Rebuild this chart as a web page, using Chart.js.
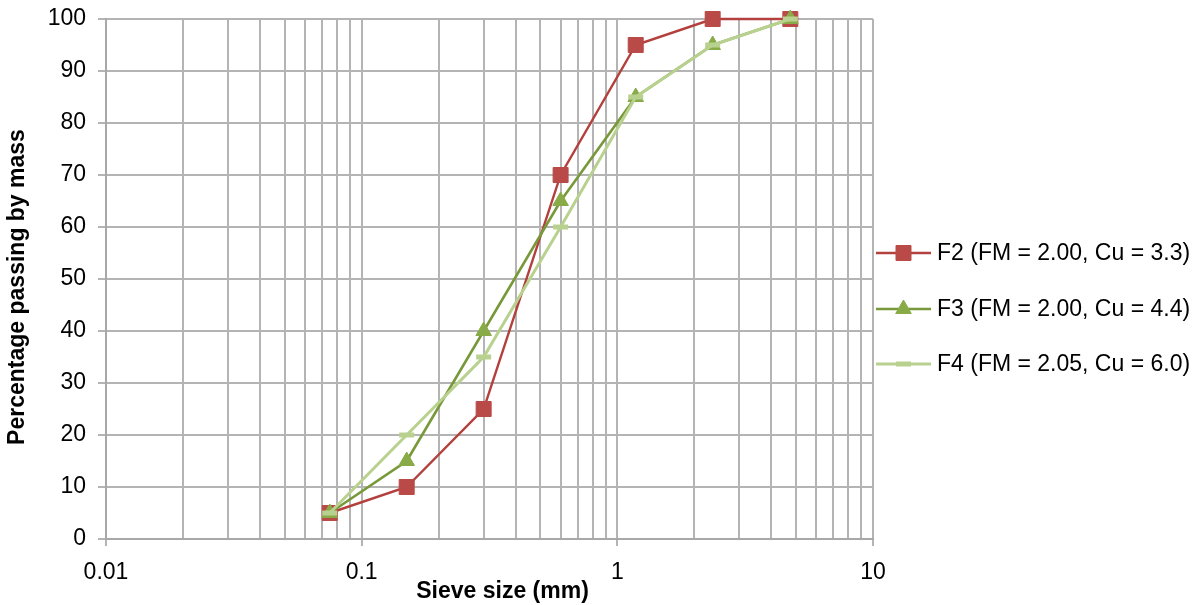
<!DOCTYPE html>
<html>
<head>
<meta charset="utf-8">
<script src="https://cdn.jsdelivr.net/npm/chart.js@4/dist/chart.umd.min.js"></script>
<style>
  html, body { margin: 0; padding: 0; background: #ffffff; }
  #wrap { width: 1199px; height: 605px; position: relative; }
</style>
</head>
<body>
<div id="wrap"><canvas id="c" width="1199" height="605"></canvas></div>
<script>
// Sieve sizes (mm) and cumulative percentage passing for each sand grading
const sieveSizes = [0.075, 0.15, 0.3, 0.6, 1.18, 2.36, 4.75];
const passingF2 = [5, 10, 25, 70, 95, 100, 100];
const passingF3 = [5, 15, 40, 65, 85, 95, 100];
const passingF4 = [5, 20, 35, 60, 85, 95, 100];
const seriesNames = [
  'F2 (FM = 2.00, Cu = 3.3)',
  'F3 (FM = 2.00, Cu = 4.4)',
  'F4 (FM = 2.05, Cu = 6.0)'
];
const xMajor = [0.01, 0.1, 1, 10];
const xTickLabels = ['0.01', '0.1', '1', '10'];
const yTicks = [0, 10, 20, 30, 40, 50, 60, 70, 80, 90, 100];
const xTitle = 'Sieve size (mm)';
const yTitle = 'Percentage passing by mass';

const FONT = "'Liberation Sans', 'DejaVu Sans', sans-serif";
const GRID = '#b4b4b4';

function pts(values) {
  return sieveSizes.map((s, i) => ({ x: s, y: values[i] }));
}

const datasets = [
  {
    label: seriesNames[0], data: pts(passingF2),
    borderColor: '#b3403d', borderWidth: 2.4,
    pointStyle: 'rect', pointRadius: 10.6, pointHoverRadius: 10.6,
    pointBackgroundColor: '#b94a47', pointBorderColor: '#b94a47', pointBorderWidth: 1,
    order: 2, clip: false
  },
  {
    label: seriesNames[1], data: pts(passingF3),
    borderColor: '#78993a', borderWidth: 2.6,
    pointStyle: 'triangle', pointRadius: 9, pointHoverRadius: 9,
    pointBackgroundColor: '#88ab48', pointBorderColor: '#88ab48', pointBorderWidth: 1,
    order: 1, clip: false
  },
  {
    label: seriesNames[2], data: pts(passingF4),
    borderColor: '#b8d18f', borderWidth: 3,
    pointStyle: 'line', pointRadius: 7.5, pointHoverRadius: 7.5,
    pointBackgroundColor: '#b8d18f', pointBorderColor: '#b8d18f', pointBorderWidth: 5,
    order: 0, clip: false
  }
];

// Axis titles and a legend with line + marker samples on the right
const decorations = {
  id: 'decorations',
  afterDraw(chart) {
    const ctx = chart.ctx;
    const area = chart.chartArea;
    ctx.save();
    ctx.fillStyle = '#000000';
    ctx.font = 'bold 23px ' + FONT;
    ctx.textAlign = 'center';
    ctx.textBaseline = 'middle';
    ctx.fillText(xTitle, (area.left + area.right) / 2 + 13, 592);
    ctx.save();
    ctx.translate(18, (area.top + area.bottom) / 2 + 8);
    ctx.rotate(-Math.PI / 2);
    ctx.fillText(yTitle, 0, 0);
    ctx.restore();

    const x0 = 876, x1 = 931, textX = 937;
    const rows = [253, 309, 364];
    chart.data.datasets.forEach((ds, i) => {
      const y = rows[i];
      ctx.strokeStyle = ds.borderColor;
      ctx.lineWidth = ds.borderWidth;
      ctx.beginPath(); ctx.moveTo(x0, y); ctx.lineTo(x1, y); ctx.stroke();
      ctx.fillStyle = ds.pointBackgroundColor;
      ctx.strokeStyle = ds.pointBorderColor;
      ctx.lineWidth = ds.pointBorderWidth;
      Chart.helpers.drawPoint(ctx, {
        pointStyle: ds.pointStyle, radius: ds.pointRadius, rotation: 0,
        borderWidth: ds.pointBorderWidth
      }, (x0 + x1) / 2, y);
      ctx.fillStyle = '#000000';
      ctx.font = '23px ' + FONT;
      ctx.textAlign = 'left';
      ctx.textBaseline = 'middle';
      ctx.fillText(ds.label, textX, y + 1);
    });
    ctx.restore();
  }
};

new Chart(document.getElementById('c'), {
  type: 'line',
  data: { datasets },
  options: {
    responsive: false,
    animation: false,
    events: [],
    layout: { padding: { top: 19, right: 326, left: 0, bottom: 0 } },
    plugins: { legend: { display: false }, tooltip: { enabled: false } },
    elements: { line: { tension: 0, fill: false } },
    scales: {
      x: {
        type: 'logarithmic',
        min: 0.01, max: 10,
        afterFit(scale) { scale.height = 66; },
        afterBuildTicks(scale) {
          const t = [];
          for (let e = -2; e <= 0; e++) {
            for (let m = 1; m <= 9; m++) {
              t.push({ value: +(m * Math.pow(10, e)).toPrecision(3), major: m === 1 });
            }
          }
          t.push({ value: 10, major: true });
          scale.ticks = t;
        },
        ticks: {
          autoSkip: false, maxRotation: 0, padding: 15,
          color: '#000000', font: { family: FONT, size: 23, lineHeight: 1 },
          callback(v) {
            const i = xMajor.indexOf(v);
            return i >= 0 ? xTickLabels[i] : '';
          }
        },
        grid: {
          color: GRID, lineWidth: 2, tickLength: 7,
          tickColor: (c) => (c.tick && xMajor.includes(c.tick.value)) ? GRID : 'rgba(0,0,0,0)'
        },
        border: { color: '#a8a8a8', width: 2 }
      },
      y: {
        type: 'linear', min: 0, max: 100,
        afterFit(scale) { scale.width = 106; },
        afterBuildTicks(scale) { scale.ticks = yTicks.map(v => ({ value: v })); },
        ticks: { color: '#000000', font: { family: FONT, size: 23, lineHeight: 0.4 }, padding: 12 },
        grid: { color: GRID, lineWidth: 2, tickLength: 8 },
        border: { color: '#a8a8a8', width: 2 }
      }
    }
  },
  plugins: [decorations]
});
</script>
</body>
</html>
